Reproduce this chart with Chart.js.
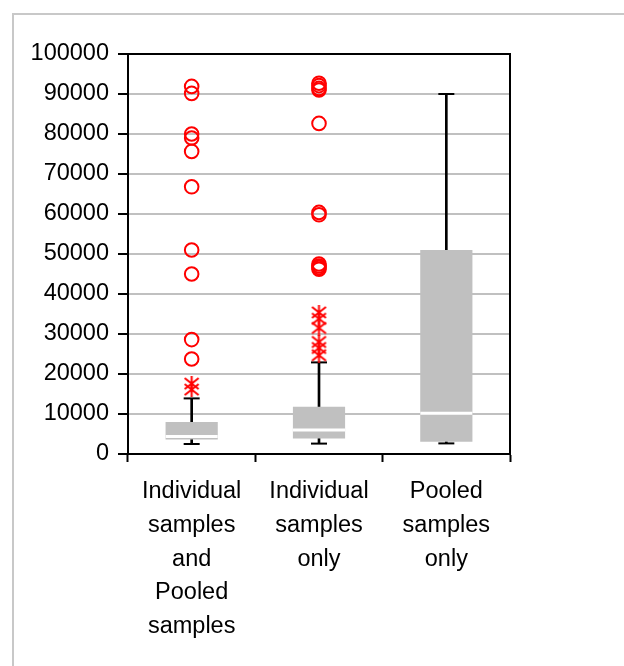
<!DOCTYPE html>
<html>
<head>
<meta charset="utf-8">
<script src="https://cdn.jsdelivr.net/npm/chart.js@4/dist/chart.umd.min.js"></script>
<style>
  html, body { margin: 0; padding: 0; background: #ffffff; }
  #wrap { position: relative; width: 624px; height: 666px; overflow: hidden; }
  #frame { position: absolute; left: 12px; top: 13px; width: 700px; height: 800px; border: 2px solid #c8c8c8; box-sizing: border-box; }
  #c { position: absolute; left: 0; top: 0; }
</style>
</head>
<body>
<div id="wrap">
  <div id="frame"></div>
  <canvas id="c" width="624" height="666"></canvas>
</div>
<script>
// ---- data ----
const categoryLines = [
  ['Individual', 'samples', 'and', 'Pooled', 'samples'],
  ['Individual', 'samples', 'only'],
  ['Pooled', 'samples', 'only']
];
const categories = categoryLines.map(l => l.join(' '));
const whiskerLow  = [2500, 2600, 2650];
const q1          = [3600, 3900, 3080];
const median      = [4400, 6000, 10200];
const q3          = [8000, 11800, 51000];
const whiskerHigh = [13900, 22900, 90000];
const circleOutliers = [
  [91900, 90150, 80000, 79000, 75650, 66800, 51000, 45000, 28600, 23750],
  [92700, 92100, 91400, 91000, 82650, 60400, 59800, 47500, 47000, 46600, 46200],
  []
];
const starOutliers = [
  [17600, 16100],
  [35400, 33800, 31500, 28000, 26500, 24700],
  []
];
const yTicks = [0, 10000, 20000, 30000, 40000, 50000, 60000, 70000, 80000, 90000, 100000];

// ---- helpers ----
function toPoints(groups) {
  const pts = [];
  groups.forEach((vals, i) => vals.forEach(v => pts.push({ x: categories[i], y: v })));
  return pts;
}
function starMarker() {
  const c = document.createElement('canvas');
  c.width = 17; c.height = 15;
  const g = c.getContext('2d');
  g.strokeStyle = '#ff0000';
  g.lineWidth = 2;
  g.beginPath();
  g.moveTo(1.5, 2); g.lineTo(15.5, 13);
  g.moveTo(15.5, 2); g.lineTo(1.5, 13);
  g.moveTo(8.5, 0); g.lineTo(8.5, 15);
  g.stroke();
  return c;
}
const star = starMarker();

const framePlugin = {
  id: 'frame',
  afterDatasetsDraw(chart) {
    const a = chart.chartArea, ctx = chart.ctx;
    ctx.save();
    ctx.strokeStyle = '#000000';
    ctx.lineWidth = 2;
    ctx.strokeRect(a.left, a.top, a.right - a.left, a.bottom - a.top);
    ctx.restore();
  }
};

const FONT = { family: '"Liberation Sans", Arial, sans-serif', size: 23.5 };

new Chart(document.getElementById('c'), {
  data: {
    labels: categories,
    datasets: [
      { type: 'line', label: 'circles', data: toPoints(circleOutliers), showLine: false,
        pointStyle: 'circle', pointRadius: 6.8, pointBorderWidth: 2, pointBorderColor: '#ff0000',
        pointBackgroundColor: 'rgba(0,0,0,0)', order: 1 },
      { type: 'line', label: 'stars', data: toPoints(starOutliers), showLine: false,
        pointStyle: star, order: 1 },
      { type: 'line', label: 'capLow', data: whiskerLow, showLine: false,
        pointStyle: 'line', pointRadius: 8, pointBorderWidth: 2, pointBorderColor: '#000000', order: 2 },
      { type: 'line', label: 'capHigh', data: whiskerHigh, showLine: false,
        pointStyle: 'line', pointRadius: 8, pointBorderWidth: 2, pointBorderColor: '#000000', order: 2 },
      { type: 'line', label: 'median', data: median, showLine: false,
        pointStyle: 'line', pointRadius: 26, pointBorderWidth: 3, pointBorderColor: '#ffffff', order: 3 },
      { type: 'bar', label: 'box', data: q1.map((v, i) => [v, q3[i]]), grouped: false,
        backgroundColor: '#c0c0c0', borderWidth: 0, barPercentage: 0.41, categoryPercentage: 1.0, order: 4 },
      { type: 'bar', label: 'whisker', data: whiskerLow.map((v, i) => [v, whiskerHigh[i]]), grouped: false,
        backgroundColor: '#000000', borderWidth: 0, barThickness: 2, order: 5 }
    ]
  },
  options: {
    responsive: false,
    animation: false,
    events: [],
    layout: { padding: { left: 0, top: 54, right: 114, bottom: 0 } },
    plugins: { legend: { display: false }, tooltip: { enabled: false } },
    scales: {
      x: {
        type: 'category',
        offset: true,
        grid: { offset: true, drawOnChartArea: false, tickLength: 8, tickColor: '#000000', tickWidth: 2 },
        border: { color: '#000000', width: 2 },
        ticks: {
          color: '#000000', font: Object.assign({}, FONT, { lineHeight: '33.7px' }),
          padding: 13, maxRotation: 0, autoSkip: false,
          callback: (v, i) => categoryLines[i]
        },
        afterFit: s => { s.height = 212; }
      },
      y: {
        min: 0, max: 100000,
        afterBuildTicks: s => { s.ticks = yTicks.map(v => ({ value: v })); },
        grid: { color: '#c0c0c0', lineWidth: 2, tickLength: 10, tickColor: '#000000', tickWidth: 2 },
        border: { color: '#000000', width: 2 },
        ticks: { color: '#000000', font: FONT, padding: 9, callback: v => String(v) },
        afterFit: s => { s.width = 128; }
      }
    }
  },
  plugins: [framePlugin]
});
</script>
</body>
</html>
